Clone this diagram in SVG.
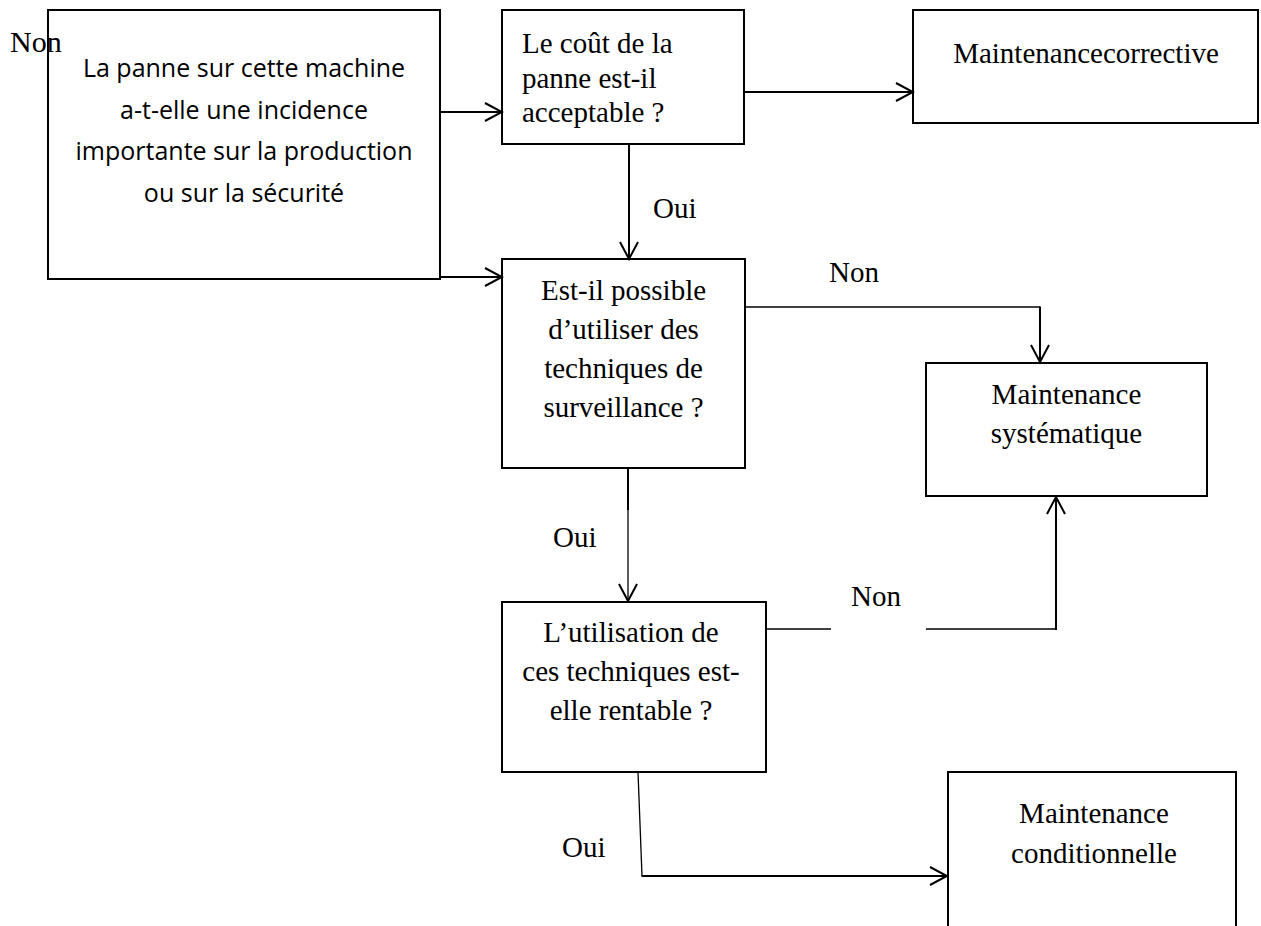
<svg xmlns="http://www.w3.org/2000/svg" width="1261" height="926" viewBox="0 0 1261 926">
  <style>
    .box { fill: #fff; stroke: #000; stroke-width: 2; }
    .serif { font-family: "Liberation Serif", "Times New Roman", serif; font-size: 29px; fill: #000; }
    .sans { font-family: "Open Sans", "Liberation Sans", sans-serif; font-size: 25px; fill: #000; }
    .mid { text-anchor: middle; }
    .wire { fill: none; stroke: #000; stroke-width: 2; }
    .thin { fill: none; stroke: #000; stroke-width: 1.3; }
  </style>
  <defs>
    <marker id="arrow" viewBox="-20 -11 22 22" refX="0" refY="0" markerWidth="22" markerHeight="22" markerUnits="userSpaceOnUse" orient="auto">
      <path d="M-17,-9 L0,0 L-17,9" fill="none" stroke="#000" stroke-width="2"/>
    </marker>
  </defs>

  <rect width="1261" height="926" fill="#fff"/>

  <!-- decision: impact on production or safety -->
  <g id="node-incidence">
    <rect class="box" x="48" y="10" width="392" height="269"/>
    <text class="sans mid" x="244" y="77">La panne sur cette machine</text>
    <text class="sans mid" x="244" y="118.5">a-t-elle une incidence</text>
    <text class="sans mid" x="244" y="160">importante sur la production</text>
    <text class="sans mid" x="244" y="201.5">ou sur la sécurité</text>
  </g>

  <!-- decision: is the cost acceptable -->
  <g id="node-cout">
    <rect class="box" x="502" y="10" width="242" height="134"/>
    <text class="serif" x="522" y="53">Le coût de la</text>
    <text class="serif" x="522" y="87.5">panne est-il</text>
    <text class="serif" x="522" y="122">acceptable ?</text>
  </g>

  <!-- outcome: corrective maintenance -->
  <g id="node-corrective">
    <rect class="box" x="913" y="10" width="345" height="113"/>
    <text class="serif mid" x="1086" y="63">Maintenancecorrective</text>
  </g>

  <!-- decision: monitoring techniques possible -->
  <g id="node-surveillance">
    <rect class="box" x="502" y="259" width="243" height="209"/>
    <text class="serif mid" x="623.5" y="300">Est-il possible</text>
    <text class="serif mid" x="623.5" y="339">d’utiliser des</text>
    <text class="serif mid" x="623.5" y="378">techniques de</text>
    <text class="serif mid" x="623.5" y="417">surveillance ?</text>
  </g>

  <!-- outcome: systematic maintenance -->
  <g id="node-systematique">
    <rect class="box" x="926" y="363" width="281" height="133"/>
    <text class="serif mid" x="1066.5" y="404">Maintenance</text>
    <text class="serif mid" x="1066.5" y="443">systématique</text>
  </g>

  <!-- decision: profitability -->
  <g id="node-rentable">
    <rect class="box" x="502" y="602" width="264" height="170"/>
    <text class="serif mid" x="631" y="642">L’utilisation de</text>
    <text class="serif mid" x="631" y="681">ces techniques est-</text>
    <text class="serif mid" x="631" y="720">elle rentable ?</text>
  </g>

  <!-- outcome: condition-based maintenance -->
  <g id="node-conditionnelle">
    <rect class="box" x="948" y="772" width="288" height="170"/>
    <text class="serif mid" x="1094" y="823">Maintenance</text>
    <text class="serif mid" x="1094" y="863">conditionnelle</text>
  </g>

  <g id="connectors">
    <path class="wire" d="M440,112 H502" marker-end="url(#arrow)"/>
    <path class="wire" d="M440,277 H502" marker-end="url(#arrow)"/>
    <path class="wire" d="M744,92 H913" marker-end="url(#arrow)"/>
    <path class="wire" d="M629,144 V259" marker-end="url(#arrow)"/>

    <path class="thin" d="M745,307 H1040"/>
    <path class="wire" d="M1040,306.5 V362" marker-end="url(#arrow)"/>

    <path class="wire" d="M628,468 V510"/>
    <path class="thin" d="M628,510 V601" marker-end="url(#arrow)"/>

    <path class="thin" d="M766,629 H831"/>
    <path class="thin" d="M926,629 H1056"/>
    <path class="wire" d="M1056,630 V497" marker-end="url(#arrow)"/>

    <path class="thin" d="M638,772 L642,876"/>
    <path class="wire" d="M641.5,876 H947" marker-end="url(#arrow)"/>
  </g>

  <g id="labels">
    <text class="serif" x="10" y="52" style="font-size:30px">Non</text>
    <text class="serif" x="653" y="218">Oui</text>
    <text class="serif" x="829" y="282">Non</text>
    <text class="serif" x="553" y="547">Oui</text>
    <text class="serif" x="851" y="606">Non</text>
    <text class="serif" x="562" y="857">Oui</text>
  </g>
</svg>
